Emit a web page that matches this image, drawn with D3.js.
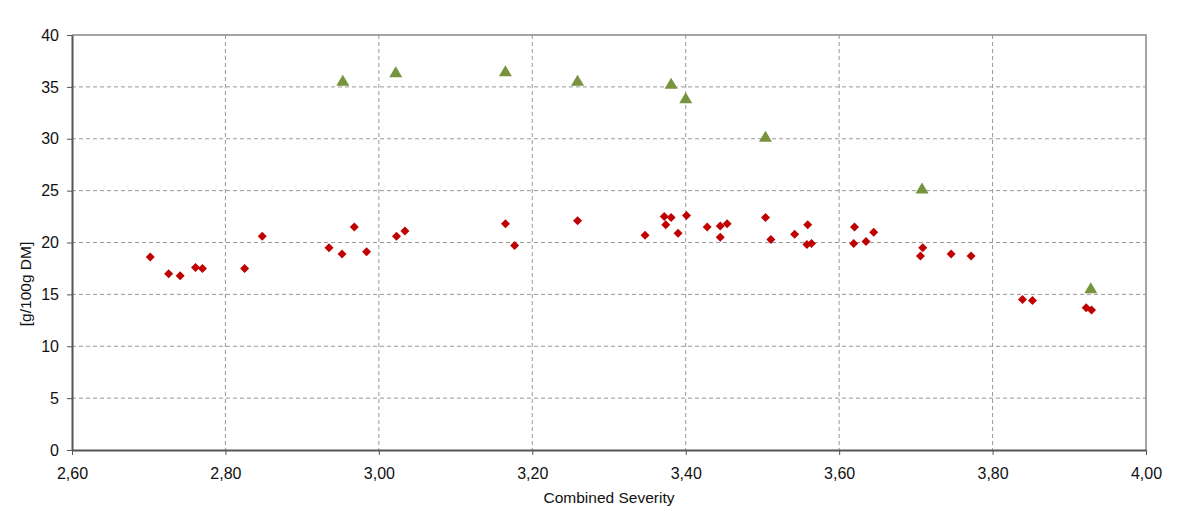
<!DOCTYPE html>
<html>
<head>
<meta charset="utf-8">
<script src="https://cdn.jsdelivr.net/npm/d3@7"></script>
<style>
  body { margin: 0; background: #fff; }
  svg { font-family: "Liberation Sans", Arial, sans-serif; }
</style>
</head>
<body>
<svg id="chart" width="1200" height="531"></svg>
<script>
// red diamonds
let redX = [2.702, 2.726, 2.741, 2.761, 2.770, 2.825, 2.848, 2.935, 2.952, 2.968, 2.984, 3.023,
  3.034, 3.165, 3.177, 3.259, 3.347, 3.372, 3.374, 3.381, 3.390, 3.401, 3.428, 3.445, 3.445, 3.454,
  3.504, 3.511, 3.542, 3.559, 3.558, 3.564, 3.620, 3.619, 3.635, 3.645, 3.709, 3.706, 3.746, 3.772,
  3.839, 3.852, 3.922, 3.929]
let redY = [18.6, 17.0, 16.8, 17.6, 17.5, 17.5, 20.6, 19.5, 18.9, 21.5, 19.1, 20.6,
  21.1, 21.8, 19.7, 22.1, 20.7, 22.5, 21.7, 22.4, 20.9, 22.6, 21.5, 21.6, 20.5, 21.8,
  22.4, 20.3, 20.8, 21.7, 19.8, 19.9, 21.5, 19.9, 20.1, 21.0, 19.5, 18.7, 18.9, 18.7,
  14.5, 14.4, 13.7, 13.5]

// green triangles
let greenX = [2.953, 3.022, 3.165, 3.259, 3.381, 3.400, 3.504, 3.708, 3.928]
let greenY = [35.6, 36.4, 36.5, 35.6, 35.3, 33.9, 30.2, 25.2, 15.6]

let xTicks = [2.6, 2.8, 3.0, 3.2, 3.4, 3.6, 3.8, 4.0]
let yTicks = [0, 5, 10, 15, 20, 25, 30, 35, 40]

let margin = {left: 72, right: 54, top: 35, bottom: 81}
let width = 1200, height = 531

let svg = d3.select("#chart")

let xScale = d3.scaleLinear().domain([2.6, 4.0]).range([margin.left, width - margin.right])
let yScale = d3.scaleLinear().domain([0, 40]).range([height - margin.bottom, margin.top])

// grid
svg.append("g")
  .selectAll("line")
  .data(yTicks.slice(1, -1))
  .enter()
  .append("line")
  .attr("x1", margin.left).attr("x2", width - margin.right)
  .attr("y1", d => yScale(d)).attr("y2", d => yScale(d))
  .attr("stroke", "#999").attr("stroke-dasharray", "4,3")

svg.append("g")
  .selectAll("line")
  .data(xTicks.slice(1, -1))
  .enter()
  .append("line")
  .attr("y1", margin.top).attr("y2", height - margin.bottom)
  .attr("x1", d => xScale(d)).attr("x2", d => xScale(d))
  .attr("stroke", "#999").attr("stroke-dasharray", "4,3")

// plot border (top/right)
svg.append("path")
  .attr("d", `M${margin.left},${margin.top}H${width - margin.right}V${height - margin.bottom}`)
  .attr("fill", "none").attr("stroke", "#888").attr("stroke-width", 1.5)

let fmt = d => d3.format(".2f")(d).replace(".", ",")

let xAxis = svg.append("g")
  .attr("transform", `translate(0,${height - margin.bottom})`)
  .call(d3.axisBottom(xScale).tickValues(xTicks).tickFormat(fmt).tickSize(5).tickSizeOuter(0))
xAxis.select(".domain").attr("stroke", "#555").attr("stroke-width", 2)
xAxis.selectAll(".tick line").attr("stroke", "#555")
xAxis.selectAll("text").attr("font-size", 16).attr("fill", "#111").attr("y", 18)

let yAxis = svg.append("g")
  .attr("transform", `translate(${margin.left},0)`)
  .call(d3.axisLeft(yScale).tickValues(yTicks).tickSize(5).tickSizeOuter(0))
yAxis.select(".domain").attr("stroke", "#555").attr("stroke-width", 2)
yAxis.selectAll(".tick line").attr("stroke", "#555")
yAxis.selectAll("text").attr("font-size", 16).attr("fill", "#111").attr("x", -13)

svg.append("text")
  .attr("x", (margin.left + width - margin.right) / 2)
  .attr("y", 503)
  .attr("text-anchor", "middle")
  .attr("font-size", 15.5)
  .attr("fill", "#111")
  .text("Combined Severity")

svg.append("text")
  .attr("transform", "translate(31,284) rotate(-90)")
  .attr("text-anchor", "middle")
  .attr("font-size", 15.5)
  .attr("fill", "#111")
  .text("[g/100g DM]")

// points
let redData = redX.map((x, i) => ({x: x, y: redY[i]}))
let greenData = greenX.map((x, i) => ({x: x, y: greenY[i]}))

svg.append("g")
  .selectAll("path")
  .data(redData)
  .enter()
  .append("path")
  .attr("d", "M0,-4.5L4.5,0L0,4.5L-4.5,0Z")
  .attr("transform", d => `translate(${xScale(d.x)},${yScale(d.y)})`)
  .attr("fill", "#c00000")

svg.append("g")
  .selectAll("path")
  .data(greenData)
  .enter()
  .append("path")
  .attr("d", "M0,-6L6.5,5L-6.5,5Z")
  .attr("transform", d => `translate(${xScale(d.x)},${yScale(d.y)})`)
  .attr("fill", "#77933c")
</script>
</body>
</html>
